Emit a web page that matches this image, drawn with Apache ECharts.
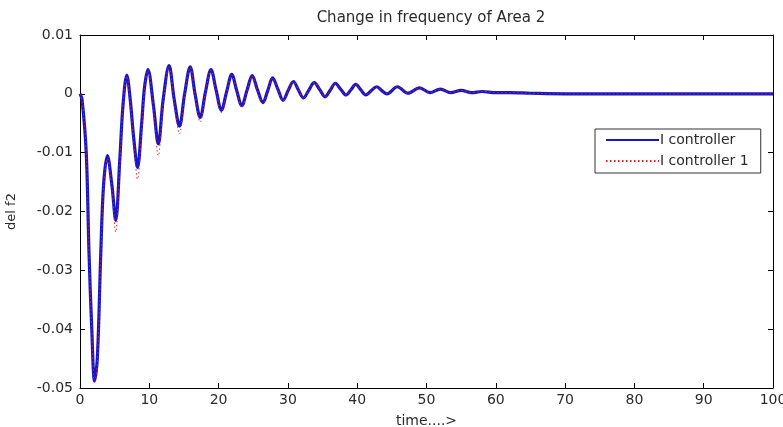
<!DOCTYPE html>
<html>
<head>
<meta charset="utf-8">
<script src="https://cdn.jsdelivr.net/npm/echarts@6/dist/echarts.min.js"></script>
<style>html,body{margin:0;padding:0;background:#fff;}#c{width:783px;height:427px;}</style>
</head>
<body>
<div id="c"></div>
<script>
var time = [0,0.3,0.9,1.3,1.7,2.1,2.5,3.0,3.4,3.95,4.6,5.15,5.75,6.2,6.75,7.25,7.75,8.3,8.9,9.3,9.8,10.6,11.3,12.0,12.85,13.6,14.35,15.1,15.9,16.6,17.35,18.1,18.9,19.65,20.4,21.15,21.9,22.6,23.35,24.1,24.85,25.6,26.4,27.1,27.8,28.55,29.3,30.05,30.8,31.5,32.25,33.0,33.8,34.6,35.35,36.1,36.85,37.6,38.4,39.1,39.8,40.5,41.25,42.0,42.8,43.5,44.3,45.8,47.3,49.0,50.5,52.0,53.5,55.0,56.5,58.0,60,62,65,70,100];
var iController = [0,-0.001,-0.010,-0.027,-0.040,-0.0488,-0.045,-0.027,-0.0155,-0.0105,-0.0155,-0.0215,-0.011,-0.002,0.0032,-0.001,-0.0075,-0.0125,-0.005,0.001,0.0041,-0.002,-0.0085,-0.001,0.0048,-0.001,-0.0055,0.0,0.0046,0.0,-0.004,0.0003,0.0041,0.0006,-0.0028,0.0003,0.0033,0.0006,-0.002,0.0006,0.0031,0.0007,-0.0015,0.0006,0.0027,0.0008,-0.0011,0.0006,0.0021,0.0007,-0.0007,0.0006,0.0019,0.0007,-0.0005,0.0006,0.0018,0.0008,-0.0002,0.0007,0.0016,0.0007,-0.0002,0.0005,0.0012,0.0006,0.0,0.0012,0.0001,0.001,0.0002,0.0008,0.0002,0.0006,0.0002,0.0004,0.0002,0.0002,0.0001,0,0];
var iController1 = [0,-0.001,-0.010,-0.027,-0.040,-0.0492,-0.046,-0.028,-0.016,-0.011,-0.016,-0.0235,-0.012,-0.002,0.0030,-0.0015,-0.008,-0.0145,-0.006,0.0005,0.0040,-0.0025,-0.0105,-0.0015,0.0046,-0.0015,-0.0068,-0.0003,0.0045,-0.0002,-0.0048,0.0002,0.0040,0.0005,-0.0032,0.0002,0.0032,0.0005,-0.0023,0.0005,0.0030,0.0006,-0.0017,0.0005,0.0027,0.0007,-0.0012,0.0006,0.0021,0.0007,-0.0008,0.0006,0.0019,0.0007,-0.0005,0.0006,0.0018,0.0008,-0.0002,0.0007,0.0016,0.0007,-0.0002,0.0005,0.0012,0.0006,0.0,0.0012,0.0001,0.001,0.0002,0.0008,0.0002,0.0006,0.0002,0.0004,0.0002,0.0002,0.0001,0,0];
var xTicks = ['0','10','20','30','40','50','60','70','80','90','100'];
var yTicks = ['-0.05','-0.04','-0.03','-0.02','-0.01','0','0.01'];

function pairs(xs, ys){ return xs.map(function(x,i){ return [x, ys[i]]; }); }

var chart = echarts.init(document.getElementById('c'), null, {renderer:'canvas'});
var font = "'DejaVu Sans', sans-serif";
var txt = '#2a2a2a';
var axisCommon = {
  axisLine:{show:true, onZero:false, lineStyle:{color:'#000', width:1}},
  axisTick:{show:true, inside:true, length:5, lineStyle:{color:'#000'}},
  splitLine:{show:false}
};
chart.setOption({
  animation:false,
  backgroundColor:'#fff',
  title:{text:'Change in frequency of Area 2', left:426, top:6, textAlign:'center',
    textStyle:{fontFamily:font, fontSize:15, fontWeight:'normal', color:txt}},
  grid:{left:80, right:10, top:35, bottom:39, show:false, containLabel:false, outerBoundsMode:'none'},
  legend:{
    orient:'vertical', left:595, top:129,
    padding:[4,12,5,10], itemGap:7, itemWidth:53, itemHeight:14,
    backgroundColor:'#fff', borderColor:'#333', borderWidth:1, borderRadius:0,
    itemStyle:{opacity:0},
    textStyle:{fontFamily:font, fontSize:14, color:txt, padding:[0,0,0,-4]},
    data:['I controller','I controller 1']
  },
  xAxis:[
    Object.assign({type:'value', min:0, max:100, interval:10, position:'bottom',
      name:'time....>', nameLocation:'middle', nameGap:26,
      nameTextStyle:{fontFamily:font, fontSize:14, color:txt},
      axisLabel:{fontFamily:font, fontSize:14, color:txt, margin:5,
        formatter:function(v){ var i=Math.round(v/10); return xTicks[i]||''; }}}, axisCommon),
    Object.assign({type:'value', min:0, max:100, interval:10, position:'top',
      axisLabel:{show:false}}, axisCommon)
  ],
  yAxis:[
    Object.assign({type:'value', min:-0.05, max:0.01, interval:0.01, position:'left',
      name:'del f2', nameLocation:'middle', nameGap:62, nameRotate:90,
      nameTextStyle:{fontFamily:font, fontSize:13, color:txt},
      axisLabel:{fontFamily:font, fontSize:14, color:txt, margin:7,
        formatter:function(v){ var i=Math.round((v+0.05)/0.01); return yTicks[i]||''; }}}, axisCommon),
    Object.assign({type:'value', min:-0.05, max:0.01, interval:0.01, position:'right',
      axisLabel:{show:false}}, axisCommon)
  ],
  series:[
    {name:'I controller', type:'line', xAxisIndex:0, yAxisIndex:0,
      data:pairs(time, iController), showSymbol:false, symbol:'none', smooth:0.35,
      lineStyle:{color:'#1616c8', width:3.2}, itemStyle:{color:'#1616c8'}, z:2},
    {name:'I controller 1', type:'line', xAxisIndex:0, yAxisIndex:0,
      data:pairs(time, iController1), showSymbol:false, symbol:'none', smooth:0.35,
      lineStyle:{color:'#e02020', width:1, type:[1.5,2.5]}, itemStyle:{color:'#e02020'}, z:3}
  ]
});
</script>
</body>
</html>
